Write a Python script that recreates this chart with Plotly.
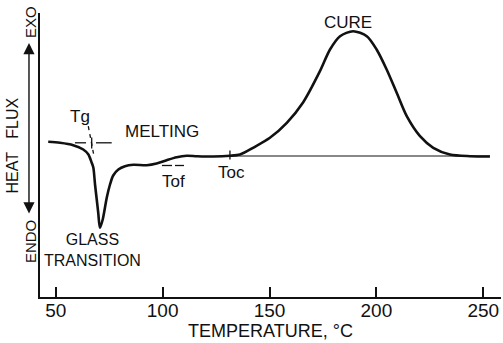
import plotly.graph_objects as go

# DSC trace: temperature (°C) vs heat flux (arbitrary units, exo up)
temperature_c = [46.5, 52.0, 58.2, 62.9, 65.3, 66.8, 67.6, 68.4, 69.2, 69.9, 70.7,
                 72.0, 73.9, 75.4, 76.9, 79.3, 82.4, 86.3, 92.6, 97.2, 101.9, 106.6,
                 111.3, 116.0, 123.7, 131.5, 136.2, 142.3, 150.2, 158.1, 165.7, 173.6,
                 178.3, 183.0, 189.1, 195.5, 200.1, 204.8, 209.5, 214.2, 220.4, 226.6,
                 234.4, 243.8, 253.1]
heat_flux = [1.42, 1.32, 1.08, 0.65, 0.15, -0.65, -1.15, -2.85, -4.35, -5.68, -7.18,
             -6.35, -4.15, -2.85, -1.95, -1.35, -1.02, -0.88, -0.92, -0.75, -0.42, -0.13,
             0.02, -0.02, -0.05, 0.02, 0.15, 0.82, 1.82, 3.32, 5.35, 8.48,
             10.65, 11.98, 12.48, 11.98, 10.65, 8.65, 6.32, 3.98, 1.98, 0.82,
             0.15, -0.02, -0.05]

# Extrapolated baseline under the cure exotherm
baseline_t = [131.5, 253.1]
baseline_h = [0.0, 0.0]

# Tg construction: tangent line and onset marker
tg_tangent_t = [65.25, 67.92]
tg_tangent_h = [2.98, -0.02]
tg_dash_t = [59.0, 64.2, None, 68.85, 76.2]
tg_dash_h = [1.32, 1.32, None, 1.32, 1.32]
tg_tick_t = [66.84, 66.84]
tg_tick_h = [1.85, 0.75]

# Onset of flow marker
tof_dash_t = [99.7, 104.4, None, 105.8, 110.0]
tof_dash_h = [-0.95, -0.95, None, -0.95, -0.95]

# Onset of cure marker
toc_tick_t = [131.5, 131.5]
toc_tick_h = [0.55, -0.35]

x_ticks = [50, 100, 150, 200, 250]

FONT = "Liberation Sans"
BLACK = "#111111"

fig = go.Figure()
fig.add_trace(go.Scatter(x=baseline_t, y=baseline_h, mode="lines",
                         line=dict(color=BLACK, width=1)))
fig.add_trace(go.Scatter(x=temperature_c, y=heat_flux, mode="lines",
                         line=dict(color=BLACK, width=2.6, shape="spline", smoothing=0.8)))
fig.add_trace(go.Scatter(x=tg_tangent_t, y=tg_tangent_h, mode="lines",
                         line=dict(color=BLACK, width=1.3, dash="4px,4px")))
fig.add_trace(go.Scatter(x=tg_dash_t, y=tg_dash_h, mode="lines",
                         line=dict(color=BLACK, width=1.3)))
fig.add_trace(go.Scatter(x=tg_tick_t, y=tg_tick_h, mode="lines",
                         line=dict(color=BLACK, width=1.3)))
fig.add_trace(go.Scatter(x=tof_dash_t, y=tof_dash_h, mode="lines",
                         line=dict(color=BLACK, width=1.3)))
fig.add_trace(go.Scatter(x=toc_tick_t, y=toc_tick_h, mode="lines",
                         line=dict(color=BLACK, width=1.3)))

def label(text, x, y, size=17):
    fig.add_annotation(text=text, x=x, y=y, xref="x", yref="y", showarrow=False,
                       xanchor="center", yanchor="middle",
                       font=dict(family=FONT, size=size, color=BLACK))

label("Tg", 61.4, 3.98)
label("MELTING", 99.6, 2.48)
label("GLASS<br>TRANSITION", 67.4, -9.4, size=16)
label("Tof", 104.9, -2.55)
label("Toc", 132.3, -1.65)
label("CURE", 186.7, 13.38)

def side_label(text, x, y, size, **kw):
    fig.add_annotation(text=text, xref="paper", yref="paper", x=x, y=y,
                       xanchor="center", yanchor="middle", showarrow=False,
                       font=dict(family=FONT, size=size, color=BLACK), **kw)

# Axis titles
side_label("TEMPERATURE, °C", 0.5, 0, 18, yshift=-34)
side_label("EXO", -0.0217, 0.968, 15, textangle=-90)
side_label("ENDO", -0.0217, 0.197, 15, textangle=-90)
side_label("HEAT\u00a0\u00a0\u00a0FLUX", -0.0597, 0.535, 16, textangle=-90)
fig.add_annotation(text="", xref="paper", yref="paper", x=-0.0239, y=0.8944,
                   ax=0, ay=172, showarrow=True, arrowside="end+start",
                   arrowhead=2, arrowsize=1.6, arrowwidth=1.4, arrowcolor=BLACK)

fig.update_xaxes(range=[42.66, 258.28], showline=True, linecolor=BLACK, linewidth=2,
                 ticks="inside", ticklen=10, tickwidth=1.5, tickcolor=BLACK,
                 tickvals=x_ticks, showgrid=False, zeroline=False,
                 ticklabelstandoff=-5,
                 tickfont=dict(family=FONT, size=19, color=BLACK))
fig.update_yaxes(range=[-14.1, 14.3], showline=True, linecolor=BLACK, linewidth=2,
                 showticklabels=False, ticks="", showgrid=False, zeroline=False)

fig.update_layout(width=503, height=343, margin=dict(l=40, r=2, t=13, b=46),
                  paper_bgcolor="white", plot_bgcolor="white", showlegend=False)

fig.write_html("out.html")
